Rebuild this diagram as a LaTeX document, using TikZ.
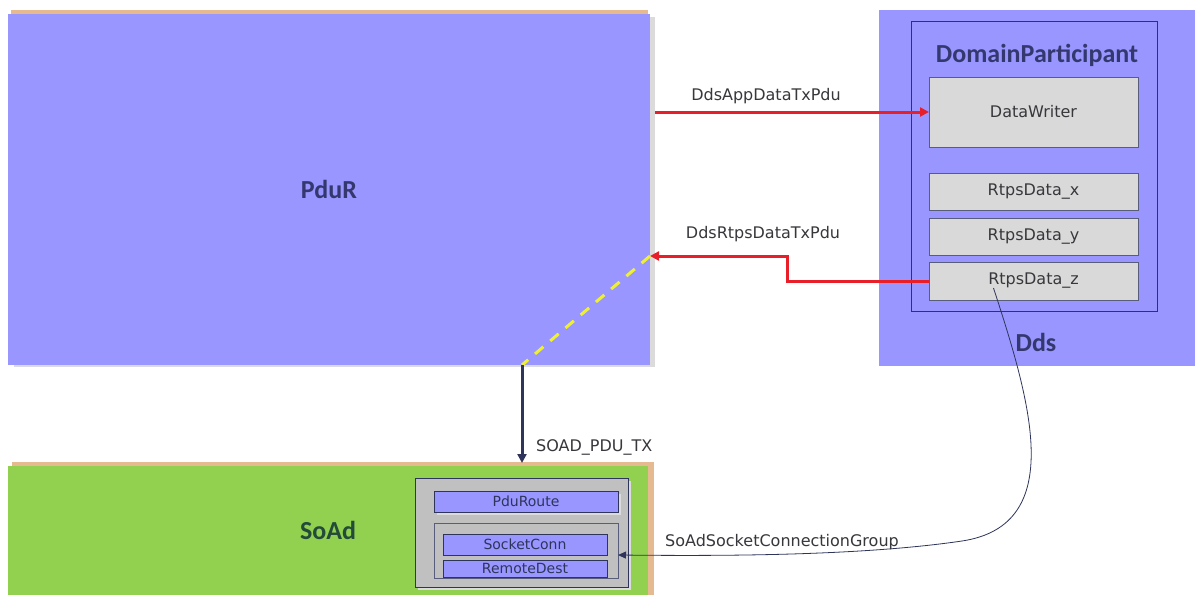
\documentclass[tikz,border=0pt]{standalone}
\usepackage{fontspec}
\setmainfont{DejaVu Sans}
\newfontfamily\ttlfont{Carlito}
\usetikzlibrary{arrows.meta,calc}
\definecolor{pdurc}{RGB}{153,150,255}
\definecolor{soadc}{RGB}{146,208,80}
\definecolor{tanc}{RGB}{230,186,145}
\definecolor{boxgray}{RGB}{217,217,217}
\definecolor{framegray}{RGB}{192,192,192}
\definecolor{navyc}{RGB}{46,52,90}
\definecolor{redc}{RGB}{232,30,40}
\definecolor{txtc}{RGB}{55,55,60}
\definecolor{ttlnavy}{RGB}{52,56,110}
\definecolor{ttlgreen}{RGB}{36,74,58}
\definecolor{yelc}{RGB}{240,240,50}
\begin{document}
\begin{tikzpicture}[x=1pt,y=-1pt,
  plain/.style={rectangle,inner sep=0pt,outer sep=0pt},
  bigbox/.style={plain,fill=pdurc},
  ttl/.style={font=\ttlfont\fontsize{26}{30}\selectfont\bfseries,text=ttlnavy},
  lbl/.style={font=\fontsize{16}{19}\selectfont,text=txtc,inner sep=0pt},
  graybox/.style={plain,fill=boxgray,draw=navyc!80,line width=0.8pt,font=\fontsize{16}{19}\selectfont,text=txtc},
  smallbox/.style={plain,fill=pdurc,draw=navyc,line width=0.8pt,font=\fontsize{14}{17}\selectfont,text=navyc},
  frame/.style={plain,draw=navyc,line width=0.8pt},
  redarrow/.style={draw=redc,line width=3pt,-{Triangle[length=9pt,width=9pt]}},
  navyarrow/.style={draw=navyc,line width=3pt,-{Triangle[length=9pt,width=9pt]}},
  thinarrow/.style={draw=navyc,line width=0.8pt,-{Triangle[length=8pt,width=7pt]}},
  shadowc/.style={fill=black!14}
]
\useasboundingbox (0,0) rectangle (1195,595);
\fill[white] (0,0) rectangle (1195,595);

% ---------- PduR ----------
\fill[shadowc] (14,17) rectangle (655,367);
\fill[tanc] (11,10) rectangle (648,15);
\node[bigbox,ttl,minimum width=642pt,minimum height=351pt] (pdur) at (329,189.5) {PduR};

% ---------- Dds ----------
\node[bigbox,minimum width=316pt,minimum height=356pt] (dds) at (1037,188) {};
\node[ttl] (ddslbl) at (1036,342) {Dds};
\node[frame,minimum width=246pt,minimum height=290pt] (dp) at (1034,166) {};
\node[ttl] (dplbl) at (1037,55) {DomainParticipant};
\node[graybox,minimum width=209pt,minimum height=70pt] (dw) at (1033.5,112) {DataWriter};
\node[graybox,minimum width=209pt,minimum height=37pt] (rx) at (1033.5,191.5) {RtpsData\_x};
\node[graybox,minimum width=209pt,minimum height=37pt] (ry) at (1033.5,236.5) {RtpsData\_y};
\node[graybox,minimum width=209pt,minimum height=38pt] (rz) at (1033.5,281) {RtpsData\_z};

% ---------- SoAd ----------
\fill[tanc] (12,462) rectangle (654,595);
\node[plain,fill=soadc,ttl,text=ttlgreen,minimum width=640pt,minimum height=129pt] (soad) at (328,530.5) {SoAd};
\fill[shadowc] (418,481) rectangle (631,590);
\node[plain,fill=framegray,draw=navyc,line width=0.8pt,minimum width=213pt,minimum height=109pt] (sfr) at (521.5,532.5) {};
\fill[shadowc] (437,494) rectangle (621,515);
\node[smallbox,minimum width=184pt,minimum height=21pt] (proute) at (526,501.5) {PduRoute};
\node[plain,fill=framegray,draw=navyc!80,line width=0.8pt,minimum width=184pt,minimum height=55pt] (ifr) at (526,550.5) {};
\node[smallbox,minimum width=164pt,minimum height=21pt] (sconn) at (525,544.5) {SocketConn};
\node[smallbox,minimum width=164pt,minimum height=17pt] (rdest) at (525,568.5) {RemoteDest};

% ---------- connectors ----------
\draw[redarrow] ($(dw.west -| pdur.east)+(5,0)$) -- (dw.west);
\node[lbl] (lapp) at (766,96) {DdsAppDataTxPdu};

\coordinate (bend) at (787,256);
\draw[redarrow] (rz.west) -| (bend) -- (pdur.east |- bend);
\node[lbl] (lrtps) at (763,234) {DdsRtpsDataTxPdu};

\coordinate (tx) at (522,365);
\draw[yelc,line width=3pt,dash pattern=on 11pt off 9pt] (pdur.east |- bend) -- (tx);
\draw[navyarrow] (tx) -- ($(tx |- soad.north)+(0,-3)$);
\node[lbl,anchor=west] (lsoadtx) at (536,447) {SOAD\_PDU\_TX};

\coordinate (cstart) at ($(rz.center)+(-40,7)$);
\draw[thinarrow] (cstart) .. controls (1030,400) and (1068,525) .. (962,541)
  .. controls (860,556) and (720,556) .. ($(ifr.east)+(0,4.5)$);
\node[lbl,anchor=west] (lgroup) at (665,542) {SoAdSocketConnectionGroup};
\end{tikzpicture}
\end{document}
